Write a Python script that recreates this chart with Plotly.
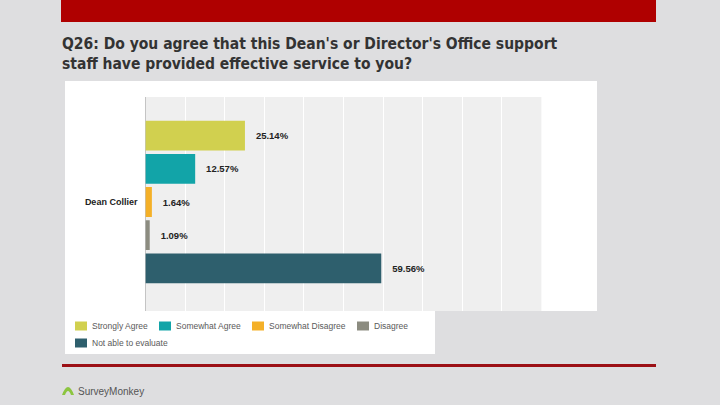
import plotly.graph_objects as go

# ---- data ----
categories = ["Strongly Agree", "Somewhat Agree", "Somewhat Disagree", "Disagree", "Not able to evaluate"]
values = [25.14, 12.57, 1.64, 1.09, 59.56]
colors = ["#d1d04f", "#12a4a8", "#f4b028", "#8c8c80", "#2e5f6d"]
row_label = ["Dean Collier"]
title_lines = ["Q26: Do you agree that this Dean's or Director's Office support",
               "staff have provided effective service to you?"]

W, H = 720, 405
def px(x):
    return x / W
def py(y):
    return 1 - y / H

fig = go.Figure()
for name, v, c in zip(categories, values, colors):
    fig.add_trace(go.Bar(
        x=[v], y=row_label, orientation="h", name=name,
        marker=dict(color=c, line=dict(width=0)),
        text=[v], texttemplate="   %{x:.2f}%", textposition="outside",
        textfont=dict(family="Liberation Sans", size=9.5, color="#222222", weight="bold"),
        cliponaxis=False, showlegend=False, hoverinfo="skip",
    ))

shapes = []
shapes.append(dict(type="rect", xref="paper", yref="paper", x0=px(61), x1=px(656), y0=py(22), y1=py(0),
                   fillcolor="#af0000", line=dict(width=0), layer="below"))
shapes.append(dict(type="rect", xref="paper", yref="paper", x0=px(65), x1=px(597), y0=py(311), y1=py(81),
                   fillcolor="white", line=dict(width=0), layer="below"))
shapes.append(dict(type="rect", xref="paper", yref="paper", x0=px(65), x1=px(435), y0=py(354), y1=py(311),
                   fillcolor="white", line=dict(width=0), layer="below"))
shapes.append(dict(type="rect", xref="paper", yref="paper", x0=px(145.4), x1=px(541.4), y0=py(311), y1=py(97),
                   fillcolor="#efefef", line=dict(width=0), layer="below"))
shapes.append(dict(type="line", xref="paper", yref="paper", x0=px(62), x1=px(656), y0=py(365.5), y1=py(365.5),
                   line=dict(color="#9c1016", width=3), layer="below"))

annotations = []
for i, line in enumerate(title_lines):
    annotations.append(dict(xref="paper", yref="paper", x=px(60), y=py(55 + 20 * i), xanchor="left", yanchor="bottom",
                            text=line, showarrow=False, align="left",
                            font=dict(family="DejaVu Sans Condensed, sans-serif",
                                      size=15.5, color="#333333", weight="bold")))

legend_pos = [(75, 326), (159, 326), (252, 326), (357, 326), (75, 343)]
for (lx, ly), name, c in zip(legend_pos, categories, colors):
    shapes.append(dict(type="rect", xref="paper", yref="paper", x0=px(lx), x1=px(lx + 12), y0=py(ly + 4.5), y1=py(ly - 4.5),
                       fillcolor=c, line=dict(width=0)))
    annotations.append(dict(xref="paper", yref="paper", x=px(lx + 15), y=py(ly), xanchor="left", yanchor="middle",
                            text=name, showarrow=False,
                            font=dict(family="Liberation Sans", size=8.5, color="#5a5a5a")))

# SurveyMonkey footer logo
shapes.append(dict(type="path", xref="paper", yref="paper",
                   path="M {0},{1} Q {2},{3} {4},{1} L {5},{1} Q {2},{6} {7},{1} Z".format(
                       px(62), py(395), px(68), py(379), px(74), px(71), py(387), px(65)),
                   fillcolor="#8cc540", line=dict(width=0)))
annotations.append(dict(xref="paper", yref="paper", x=px(75.5), y=py(391.5), xanchor="left", yanchor="middle",
                        text="SurveyMonkey", showarrow=False,
                        font=dict(family="Liberation Sans", size=10, color="#555555")))

fig.update_layout(
    width=W, height=H,
    margin=dict(l=0, r=0, t=0, b=0),
    paper_bgcolor="#dedee0",
    plot_bgcolor="rgba(0,0,0,0)",
    barmode="group", bargap=0.225, bargroupgap=0.1,
    shapes=shapes, annotations=annotations,
    xaxis=dict(domain=[px(145.4), px(541.4)], range=[0, 100], dtick=10, showticklabels=False,
               showgrid=True, gridcolor="white", gridwidth=1,
               zeroline=True, zerolinecolor="#c4c4c4", zerolinewidth=1, fixedrange=True),
    yaxis=dict(domain=[py(311), py(97)], type="category", range=[0.5093, -0.4907],
               showgrid=False, zeroline=False, ticks="", ticklabelstandoff=7,
               tickfont=dict(family="Liberation Sans", size=9, color="#222222", weight="bold")),
    showlegend=False,
)

fig.write_html("out.html", config={"displayModeBar": False},
               post_script="document.body.style.margin='0';document.body.style.background='#dedee0';")
